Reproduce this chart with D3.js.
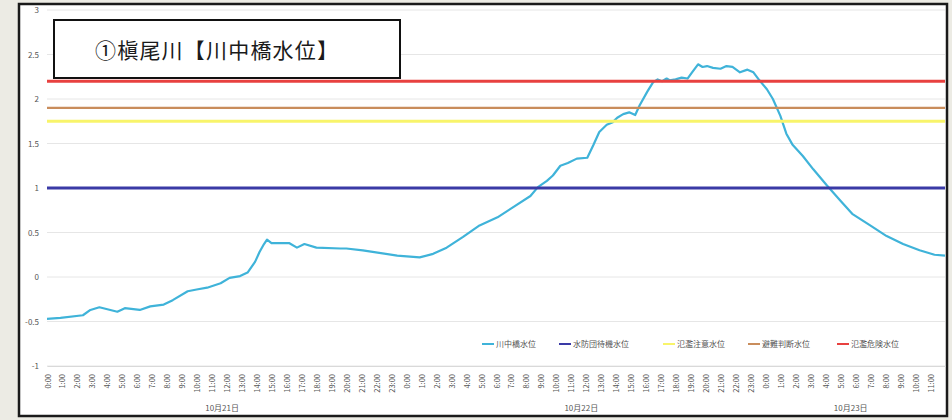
<!DOCTYPE html>
<html><head><meta charset="utf-8">
<script src="https://cdn.jsdelivr.net/npm/d3@7"></script>
<style>
html,body{margin:0;padding:0;background:#ecebe4;}
svg{display:block;}
</style></head>
<body>
<svg id="c" width="952" height="420"></svg>
<script>
// ---- data (hours since 10/21 0:00, water level m) ----
const hours = [0,0.9,2.4,2.9,3.5,4.7,5.2,6.2,6.9,7.8,8.4,9.4,10.0,10.7,11.6,12.2,12.9,13.4,13.9,14.2,14.5,14.7,15.0,16.2,16.7,17.2,18.0,19.6,20.0,21.1,23.4,24.9,25.8,26.7,27.8,28.9,30.1,31.1,32.3,32.8,33.4,33.8,34.3,34.8,35.4,36.1,36.5,36.9,37.4,37.8,38.1,38.5,38.9,39.3,39.6,40.1,40.5,40.8,41.1,41.4,41.6,42.0,42.4,42.8,43.1,43.5,43.8,44.1,44.5,45.0,45.4,45.8,46.3,46.8,47.2,47.6,48.1,48.5,49.0,49.4,49.8,50.5,51.2,52.1,53.0,53.8,55.0,56.1,57.2,58.3,59.3,60.0];
const levels = [-0.47,-0.46,-0.43,-0.37,-0.34,-0.39,-0.35,-0.37,-0.33,-0.31,-0.26,-0.16,-0.14,-0.12,-0.07,-0.01,0.01,0.05,0.17,0.28,0.37,0.42,0.38,0.38,0.33,0.37,0.33,0.32,0.32,0.30,0.24,0.22,0.26,0.33,0.45,0.58,0.67,0.78,0.91,1.01,1.08,1.14,1.25,1.28,1.33,1.34,1.48,1.63,1.71,1.74,1.79,1.83,1.85,1.82,1.93,2.08,2.19,2.22,2.20,2.23,2.21,2.22,2.24,2.23,2.30,2.39,2.36,2.37,2.35,2.34,2.37,2.36,2.30,2.33,2.30,2.21,2.11,2.00,1.81,1.61,1.49,1.36,1.21,1.03,0.86,0.71,0.58,0.46,0.37,0.30,0.25,0.24];
const seriesNames = ["川中橋水位","水防団待機水位","氾濫注意水位","避難判断水位","氾濫危険水位"];
const thresholdValues = [1.0, 1.75, 1.9, 2.2];
const seriesColors = ["#3fb3d9","#3a3aa6","#f8f46a","#c98d5c","#e8413f"];
const yTicks = [-1,-0.5,0,0.5,1,1.5,2,2.5,3];
const xTickHours = d3.range(0,60);
const dayLabels = ["10月21日","10月22日","10月23日"];
const dayStart = [0,24,48];
const dayEnd = [23,47,59];
const title = "①槇尾川【川中橋水位】";

const svg = d3.select("#c");
// frame
svg.append("rect").attr("x",19).attr("y",4).attr("width",928).attr("height",412)
  .attr("fill","#fff").attr("stroke","#1a1a1a").attr("stroke-width",2.5);

const x = d3.scaleLinear().domain([0,60]).range([47,945]);
const y = d3.scaleLinear().domain([-1,3]).range([366,10]);

// gridlines
svg.append("g").selectAll("line").data(yTicks).join("line")
  .attr("x1",x(0)).attr("x2",x(60)).attr("y1",d=>y(d)).attr("y2",d=>y(d))
  .attr("stroke","#e6e6e6").attr("stroke-width",1);

// y axis labels
const yAxis = d3.axisLeft(y).tickValues(yTicks).tickSize(0).tickPadding(8)
  .tickFormat(d=>String(d));
const gy = svg.append("g").attr("transform",`translate(${x(0)},0)`).call(yAxis);
gy.select(".domain").remove();
gy.selectAll("text").attr("font-family","Noto Sans CJK JP, sans-serif").attr("font-size",8).attr("fill","#555");

// x axis
const xAxis = d3.axisBottom(x).tickValues(xTickHours).tickSize(0).tickPadding(0)
  .tickFormat(h=>`${h%24}:00`);
const gx = svg.append("g").attr("transform",`translate(0,${y(-1)})`).call(xAxis);
gx.select(".domain").attr("stroke","#d9d9d9");
gx.selectAll("text").attr("font-family","Noto Sans CJK JP, sans-serif").attr("font-size",7.5).attr("fill","#555")
  .attr("text-anchor","end").attr("dy",null)
  .attr("transform","translate(3,8) rotate(-90)");

// day labels
svg.append("g").selectAll("text").data(dayLabels).join("text")
  .attr("x",(d,i)=>x((dayStart[i]+dayEnd[i])/2)+3).attr("y",411)
  .attr("text-anchor","middle").attr("font-family","Noto Sans CJK JP, sans-serif")
  .attr("font-size",8).attr("fill","#555").text(d=>d);

// water level line
const pts = hours.map((h,i)=>[h,levels[i]]);
svg.append("path").datum(pts)
  .attr("d",d3.line().x(d=>x(d[0])).y(d=>y(d[1])))
  .attr("fill","none").attr("stroke",seriesColors[0]).attr("stroke-width",2.2)
  .attr("stroke-linejoin","round");

// threshold lines
svg.append("g").selectAll("line").data(thresholdValues).join("line")
  .attr("x1",x(0)).attr("x2",x(60)).attr("y1",d=>y(d)).attr("y2",d=>y(d))
  .attr("stroke",(d,i)=>seriesColors[i+1]).attr("stroke-width",(d,i)=>i===2?2.2:3);

// legend
const legX = [482,559,663,748,837];
const lg = svg.append("g").selectAll("g").data(seriesNames).join("g")
  .attr("transform",(d,i)=>`translate(${legX[i]},344)`);
lg.append("line").attr("x1",0).attr("x2",12).attr("y1",0).attr("y2",0)
  .attr("stroke",(d,i)=>seriesColors[i]).attr("stroke-width",2);
lg.append("text").attr("x",14).attr("y",3).attr("font-family","Noto Sans CJK JP, sans-serif")
  .attr("font-size",8).attr("fill","#555").text(d=>d);

// title box
svg.append("rect").attr("x",54).attr("y",20).attr("width",346).attr("height",58)
  .attr("fill","#fff").attr("stroke","#111").attr("stroke-width",2);
svg.append("text").attr("x",95).attr("y",58).attr("font-family","Noto Sans CJK JP, sans-serif")
  .attr("font-size",21).attr("font-weight",400).attr("letter-spacing",1.2)
  .attr("fill","#1a1a1a").text(title);
</script>
</body></html>
